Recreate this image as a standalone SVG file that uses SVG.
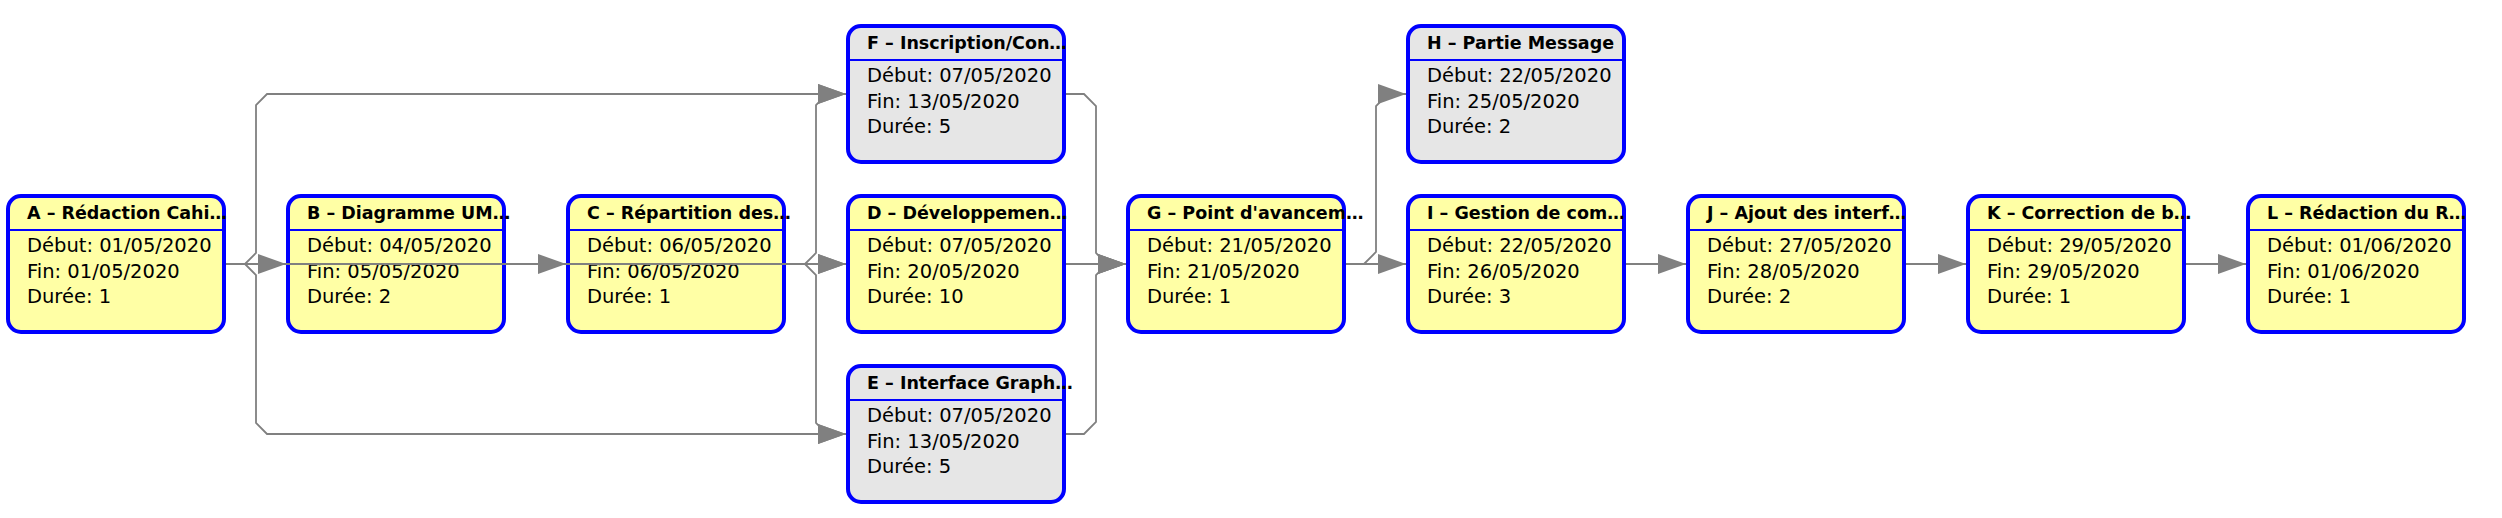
<svg xmlns="http://www.w3.org/2000/svg" width="2502" height="518" viewBox="0 0 2502 518">
<style>
.box{stroke:#0000FF;stroke-width:4}
.y{fill:#FFFFA5}
.g{fill:#E6E6E6}
.sep{stroke:#0000FF;stroke-width:2}
.t{font-family:"DejaVu Sans","Liberation Sans",sans-serif;font-size:17.5px;font-weight:bold;fill:#000}
.b{font-family:"DejaVu Sans","Liberation Sans",sans-serif;font-size:19.5px;fill:#000}
.c{fill:none;stroke:#808080;stroke-width:1.8;marker-end:url(#arr)}
</style>
<defs>
<marker id="arr" markerWidth="28" markerHeight="20" refX="28" refY="10" orient="auto" markerUnits="userSpaceOnUse">
<path d="M0,0 L28,10 L0,20 z" fill="#808080"/>
</marker>
</defs>
<rect width="2502" height="518" fill="#FFFFFF"/>
<g id="A"><rect class="box y" x="8" y="196" width="216" height="136" rx="13"/><line class="sep" x1="8" y1="230" x2="224" y2="230"/><text class="t" x="27" y="219">A – Rédaction Cahi…</text><text class="b" x="27" y="252">Début: 01/05/2020</text><text class="b" x="27" y="277.5">Fin: 01/05/2020</text><text class="b" x="27" y="303">Durée: 1</text></g>
<g id="B"><rect class="box y" x="288" y="196" width="216" height="136" rx="13"/><line class="sep" x1="288" y1="230" x2="504" y2="230"/><text class="t" x="307" y="219">B – Diagramme UM…</text><text class="b" x="307" y="252">Début: 04/05/2020</text><text class="b" x="307" y="277.5">Fin: 05/05/2020</text><text class="b" x="307" y="303">Durée: 2</text></g>
<g id="C"><rect class="box y" x="568" y="196" width="216" height="136" rx="13"/><line class="sep" x1="568" y1="230" x2="784" y2="230"/><text class="t" x="587" y="219">C – Répartition des…</text><text class="b" x="587" y="252">Début: 06/05/2020</text><text class="b" x="587" y="277.5">Fin: 06/05/2020</text><text class="b" x="587" y="303">Durée: 1</text></g>
<g id="D"><rect class="box y" x="848" y="196" width="216" height="136" rx="13"/><line class="sep" x1="848" y1="230" x2="1064" y2="230"/><text class="t" x="867" y="219">D – Développemen…</text><text class="b" x="867" y="252">Début: 07/05/2020</text><text class="b" x="867" y="277.5">Fin: 20/05/2020</text><text class="b" x="867" y="303">Durée: 10</text></g>
<g id="F"><rect class="box g" x="848" y="26" width="216" height="136" rx="13"/><line class="sep" x1="848" y1="60" x2="1064" y2="60"/><text class="t" x="867" y="49">F – Inscription/Con…</text><text class="b" x="867" y="82">Début: 07/05/2020</text><text class="b" x="867" y="107.5">Fin: 13/05/2020</text><text class="b" x="867" y="133">Durée: 5</text></g>
<g id="E"><rect class="box g" x="848" y="366" width="216" height="136" rx="13"/><line class="sep" x1="848" y1="400" x2="1064" y2="400"/><text class="t" x="867" y="389">E – Interface Graph…</text><text class="b" x="867" y="422">Début: 07/05/2020</text><text class="b" x="867" y="447.5">Fin: 13/05/2020</text><text class="b" x="867" y="473">Durée: 5</text></g>
<g id="G"><rect class="box y" x="1128" y="196" width="216" height="136" rx="13"/><line class="sep" x1="1128" y1="230" x2="1344" y2="230"/><text class="t" x="1147" y="219">G – Point d'avancem…</text><text class="b" x="1147" y="252">Début: 21/05/2020</text><text class="b" x="1147" y="277.5">Fin: 21/05/2020</text><text class="b" x="1147" y="303">Durée: 1</text></g>
<g id="H"><rect class="box g" x="1408" y="26" width="216" height="136" rx="13"/><line class="sep" x1="1408" y1="60" x2="1624" y2="60"/><text class="t" x="1427" y="49">H – Partie Message</text><text class="b" x="1427" y="82">Début: 22/05/2020</text><text class="b" x="1427" y="107.5">Fin: 25/05/2020</text><text class="b" x="1427" y="133">Durée: 2</text></g>
<g id="I"><rect class="box y" x="1408" y="196" width="216" height="136" rx="13"/><line class="sep" x1="1408" y1="230" x2="1624" y2="230"/><text class="t" x="1427" y="219">I – Gestion de com…</text><text class="b" x="1427" y="252">Début: 22/05/2020</text><text class="b" x="1427" y="277.5">Fin: 26/05/2020</text><text class="b" x="1427" y="303">Durée: 3</text></g>
<g id="J"><rect class="box y" x="1688" y="196" width="216" height="136" rx="13"/><line class="sep" x1="1688" y1="230" x2="1904" y2="230"/><text class="t" x="1707" y="219">J – Ajout des interf…</text><text class="b" x="1707" y="252">Début: 27/05/2020</text><text class="b" x="1707" y="277.5">Fin: 28/05/2020</text><text class="b" x="1707" y="303">Durée: 2</text></g>
<g id="K"><rect class="box y" x="1968" y="196" width="216" height="136" rx="13"/><line class="sep" x1="1968" y1="230" x2="2184" y2="230"/><text class="t" x="1987" y="219">K – Correction de b…</text><text class="b" x="1987" y="252">Début: 29/05/2020</text><text class="b" x="1987" y="277.5">Fin: 29/05/2020</text><text class="b" x="1987" y="303">Durée: 1</text></g>
<g id="L"><rect class="box y" x="2248" y="196" width="216" height="136" rx="13"/><line class="sep" x1="2248" y1="230" x2="2464" y2="230"/><text class="t" x="2267" y="219">L – Rédaction du R…</text><text class="b" x="2267" y="252">Début: 01/06/2020</text><text class="b" x="2267" y="277.5">Fin: 01/06/2020</text><text class="b" x="2267" y="303">Durée: 1</text></g>
<g id="connectors">
<path class="c" d="M226,264 H286"/>
<path class="c" d="M226,264 H846"/>
<path class="c" d="M506,264 H566"/>
<path class="c" d="M786,264 H846"/>
<path class="c" d="M226,264 H245 L256,253 V105 L267,94 H846"/>
<path class="c" d="M226,264 H245 L256,275 V423 L267,434 H846"/>
<path class="c" d="M786,264 H805 L816,253 V105 L827,94 H846"/>
<path class="c" d="M786,264 H805 L816,275 V423 L827,434 H846"/>
<path class="c" d="M1066,264 H1126"/>
<path class="c" d="M1066,94 H1084 L1096,106 V253 L1107,264 H1126"/>
<path class="c" d="M1066,434 H1084 L1096,422 V275 L1107,264 H1126"/>
<path class="c" d="M1346,264 H1406"/>
<path class="c" d="M1346,264 H1364 L1376,252 V106 L1388,94 H1406"/>
<path class="c" d="M1626,264 H1686"/>
<path class="c" d="M1906,264 H1966"/>
<path class="c" d="M2186,264 H2246"/>
</g>
</svg>
